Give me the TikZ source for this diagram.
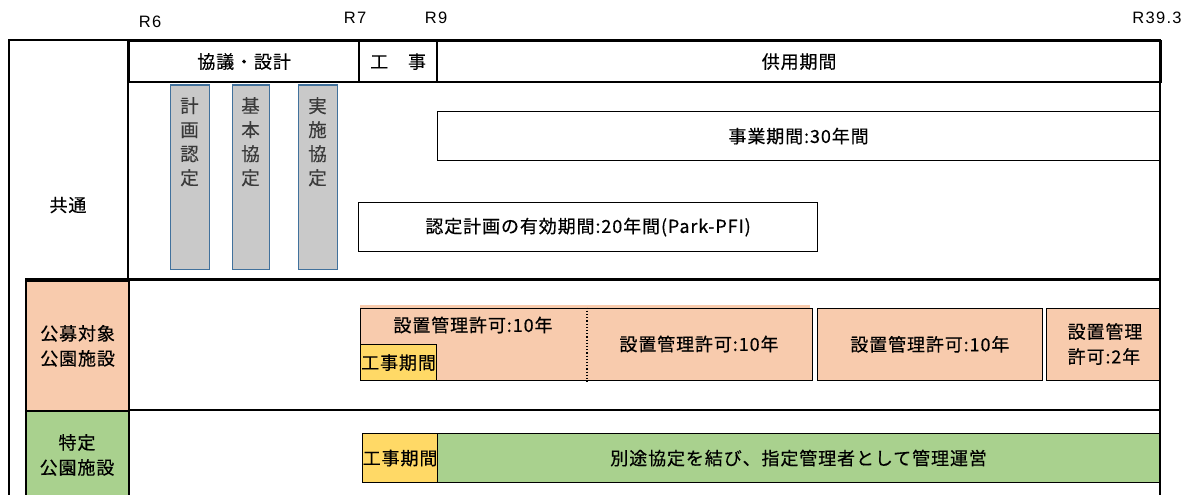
\documentclass[tikz,border=0pt]{standalone}
\usepackage{fontspec}
\newfontfamily\jp[LetterSpace=5, FakeBold=0.4]{Noto Sans CJK JP}
\newfontfamily\jpv[FakeBold=0.2]{Noto Sans CJK JP}
\newfontfamily\rfont[LetterSpace=8]{Liberation Sans}
\definecolor{orng}{HTML}{F8CBAD}
\definecolor{grn}{HTML}{A9D18E}
\definecolor{ylw}{HTML}{FFD966}
\definecolor{gry}{HTML}{C9C9C9}
\definecolor{gbord}{HTML}{41719C}
\definecolor{vtext}{HTML}{3A3A3A}
\tikzset{
  rule/.style={line width=2.2pt},
  jptext/.style={font=\jp\fontsize{18pt}{25pt}\selectfont, align=center, inner sep=0pt},
  cell/.style={draw, line width=2.2pt, inner sep=0pt, anchor=north west, jptext},
  wbox/.style={draw, fill=white, line width=1.2pt, inner sep=0pt, anchor=north west, jptext},
  obox/.style={wbox, fill=orng},
  ybox/.style={wbox, fill=ylw},
  gbox/.style={wbox, fill=grn},
  greybox/.style={draw=gbord, fill=gry, line width=1.2pt, inner sep=0pt, anchor=north west},
  vlabel/.style={anchor=north, inner sep=0pt, align=center, text=vtext,
    font=\jpv\fontsize{18.5pt}{24pt}\selectfont},
  rlabel/.style={inner sep=0pt, font=\rfont\fontsize{16.5pt}{18pt}\selectfont},
}
\begin{document}
\begin{tikzpicture}[x=1pt,y=-1pt]
\useasboundingbox (0,0) rectangle (1195,495);
% year labels
\node[rlabel] (r6) at (150,22) {R6};
\node[rlabel] (r7) at (355,18) {R7};
\node[rlabel] (r9) at (436,18) {R9};
\node[rlabel] (r393) at (1157,18) {R39.3};
% header
\node[cell, minimum width=230pt, minimum height=41pt] (h1) at (128,40) {協議・設計};
\node[cell, minimum width=78pt, minimum height=41pt] (h2) at (358,40) {工　事};
\node[cell, minimum width=724pt, minimum height=41pt] (h3) at (436,40) {供用期間};
% frame
\draw[rule] (9,500) -- (9,40) -- (1160,40) -- (1160,500);
\draw[rule] (128,40) -- (128,500);
\draw[rule] (25,279.5) -- (1160,279.5);
\draw[rule] (25,410) -- (1160,410);
% left column cells
\node[jptext] (kyotsu) at (68,205) {共通};
\node[cell, fill=orng, minimum width=103pt, minimum height=130.5pt] (koubo) at (25,279.5) {公募対象\\公園施設};
\node[cell, fill=grn, minimum width=103pt, minimum height=100pt] (tokutei) at (25,410) {};
\node[jptext] (tokuteit) at (77,455) {特定\\公園施設};
% common row
\node[greybox, minimum width=39pt, minimum height=184.5pt] (g1) at (170,84.5) {};
\node[greybox, minimum width=37pt, minimum height=184.5pt] (g2) at (232,84.5) {};
\node[greybox, minimum width=39pt, minimum height=184.5pt] (g3) at (298,84.5) {};
\node[vlabel] (g1t) at (189.5,97) {計\\画\\認\\定};
\node[vlabel] (g2t) at (250.5,97) {基\\本\\協\\定};
\node[vlabel] (g3t) at (317.5,97) {実\\施\\協\\定};
\node[wbox, minimum width=722pt, minimum height=49pt] (biz) at (437,111) {事業期間:30年間};
\node[wbox, minimum width=459pt, minimum height=49pt] (nintei) at (358,202) {認定計画の有効期間:20年間(Park-PFI)};
% orange row
\fill[orng] (360,305) rectangle (810,309);
\node[obox, minimum width=452pt, minimum height=72.5pt] (k1) at (360,307.5) {};
\draw[dotted, line width=1.2pt] ([xshift=227pt]k1.north west) -- ([xshift=227pt]k1.south west);
\node[jptext] (k1a) at (473,325) {設置管理許可:10年};
\node[ybox, minimum width=76pt, minimum height=36pt] (y1) at (360,344) {工事期間};
\node[jptext] (k1b) at (699,344) {設置管理許可:10年};
\node[obox, minimum width=225.5pt, minimum height=72.5pt] (k2) at (816.5,307.5) {設置管理許可:10年};
\node[obox, minimum width=113pt, minimum height=72.5pt] (k3) at (1046,307.5) {};
\node[jptext, align=left] (k3t) at (1105,344) {設置管理\\許可:2年};
% green row
\node[ybox, minimum width=75pt, minimum height=49pt] (y2) at (362,433) {工事期間};
\node[gbox, minimum width=722pt, minimum height=49pt] (gbar) at (437,433) {別途協定を結び、指定管理者として管理運営};
\end{tikzpicture}
\end{document}
